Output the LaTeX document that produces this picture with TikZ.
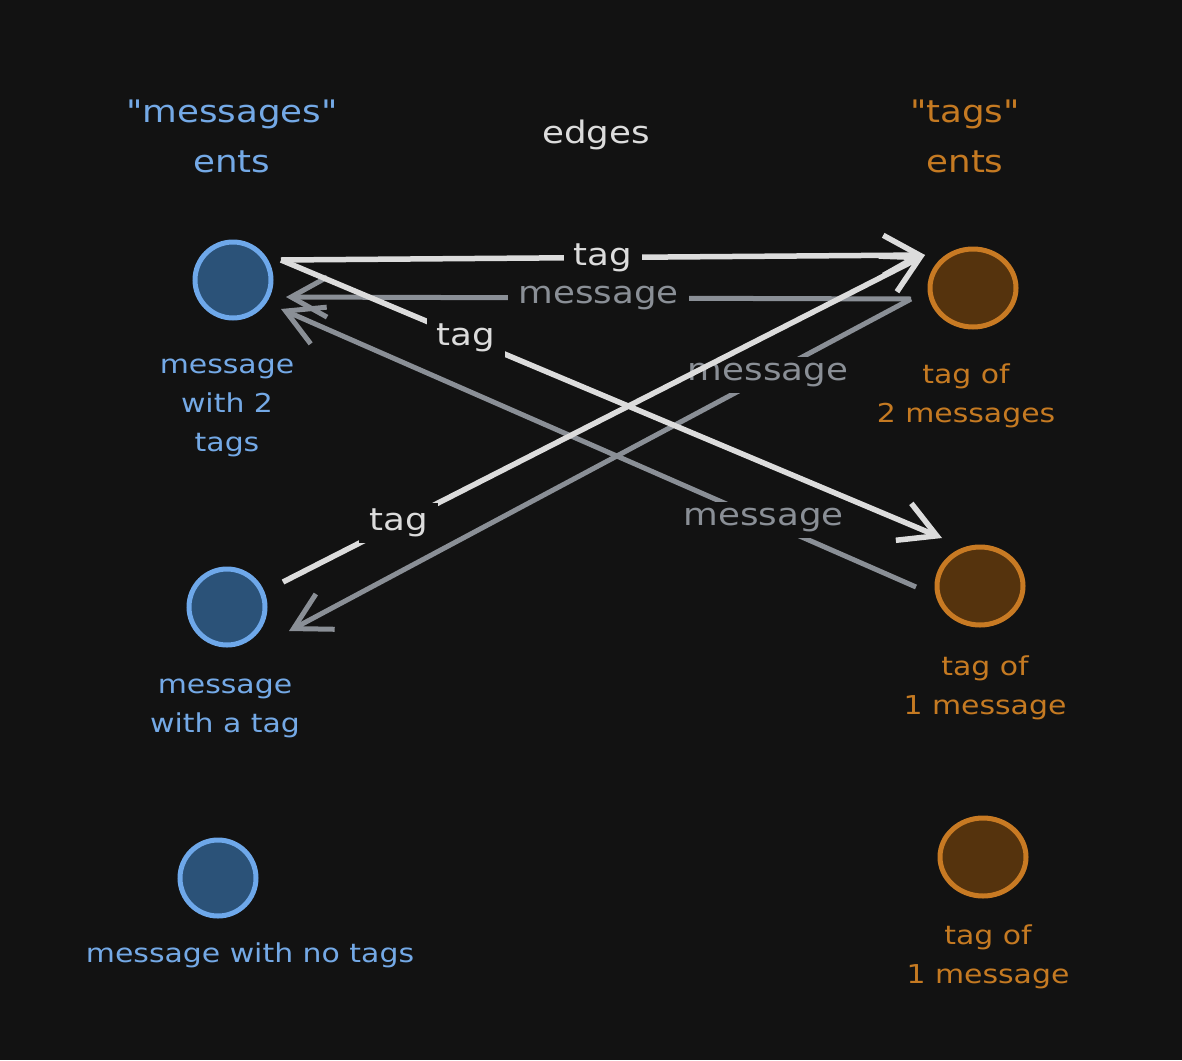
\documentclass[tikz,border=0pt]{standalone}
\usepackage{fontspec}
\setmainfont{DejaVu Sans}[FakeStretch=1.15, Ligatures=TeXOff]
\usetikzlibrary{arrows.meta,shapes.geometric}
\definecolor{bg}{HTML}{121212}
\definecolor{bluefill}{HTML}{2B5278}
\definecolor{bluestroke}{HTML}{6EA8EA}
\definecolor{bluetext}{HTML}{74A9E6}
\definecolor{orfill}{HTML}{55330D}
\definecolor{orstroke}{HTML}{C87A23}
\definecolor{ortext}{HTML}{C57A22}
\definecolor{wline}{HTML}{DCDCDC}
\definecolor{gline}{HTML}{8A8F96}
\begin{document}
\begin{tikzpicture}[x=1pt,y=-1pt,
  msgnode/.style={circle,draw=bluestroke,fill=bluefill,line width=5pt,minimum size=76pt,inner sep=0pt},
  tagnode/.style={ellipse,draw=orstroke,fill=orfill,line width=5pt,minimum width=86pt,minimum height=78pt,inner sep=0pt},
  titletext/.style={font=\fontsize{31}{50}\selectfont,align=center,inner sep=0pt},
  lbltext/.style={font=\fontsize{26}{39}\selectfont,align=center,inner sep=0pt},
  wedge/.style={draw=wline,line width=5.5pt,-{Straight Barb[length=36pt,width=40pt]}},
  gedge/.style={draw=gline,line width=5pt,-{Straight Barb[length=36pt,width=40pt]}},
  elabel/.style={font=\fontsize{31}{31}\selectfont,fill=bg,inner xsep=10pt,inner ysep=6pt}
]
\fill[bg] (0,0) rectangle (1182,1060);
\useasboundingbox (0,0) rectangle (1182,1060);

% titles
\node[titletext,text=bluetext] (tm) at (232,136) {"messages"\\ents};
\node[titletext,text=wline] (te) at (596,135) {edges};
\node[titletext,text=ortext] (tt) at (965,136) {"tags"\\ents};

% entity nodes
\node[msgnode] (M1) at (233,280) {};
\node[msgnode] (M2) at (227,607) {};
\node[msgnode] (M3) at (218,878) {};
\node[tagnode] (T1) at (973,288) {};
\node[tagnode] (T2) at (980,586) {};
\node[tagnode] (T3) at (983,857) {};

% node labels
\node[lbltext,text=bluetext] (l1) at (227,408) {message\\with 2\\tags};
\node[lbltext,text=bluetext] (l2) at (225,708) {message\\with a tag};
\node[lbltext,text=bluetext] (l3) at (250,955) {message with no tags};
\node[lbltext,text=ortext] (l4) at (966,396) {tag of\\2 messages};
\node[lbltext,text=ortext] (l5) at (985,688) {tag of\\1 message};
\node[lbltext,text=ortext] (l6) at (988,957) {tag of\\1 message};

% edge end points
\coordinate (m1out) at (281,260);
\coordinate (m1inA) at (286,297);
\coordinate (m1inB) at (281,309);
\coordinate (m2out) at (283,582);
\coordinate (m2in) at (289,631);
\coordinate (t1in) at (925,255);
\coordinate (t1out) at (911,299);
\coordinate (t2in) at (942,538);
\coordinate (t2out) at (916,587);

% gray "message" edges
\draw[gedge] (t1out) -- node[elabel,pos=0.5,text=gline] (e2) {message} (m1inA);
\draw[gedge] (t2out) -- node[elabel,pos=0.24,text=gline] (e4) {message} (m1inB);
\draw[gedge] (t1out) -- node[elabel,pos=0.23,text=gline] (e6) {message} (m2in);

% white "tag" edges
\draw[wedge] (m1out) -- node[elabel,pos=0.5,text=wline] (e1) {tag} (t1in);
\draw[wedge] (m1out) -- node[elabel,pos=0.28,text=wline] (e3) {tag} (t2in);
\draw[wedge] (m2out) -- node[elabel,pos=0.18,text=wline] (e5) {tag} (t1in);
\end{tikzpicture}
\end{document}
